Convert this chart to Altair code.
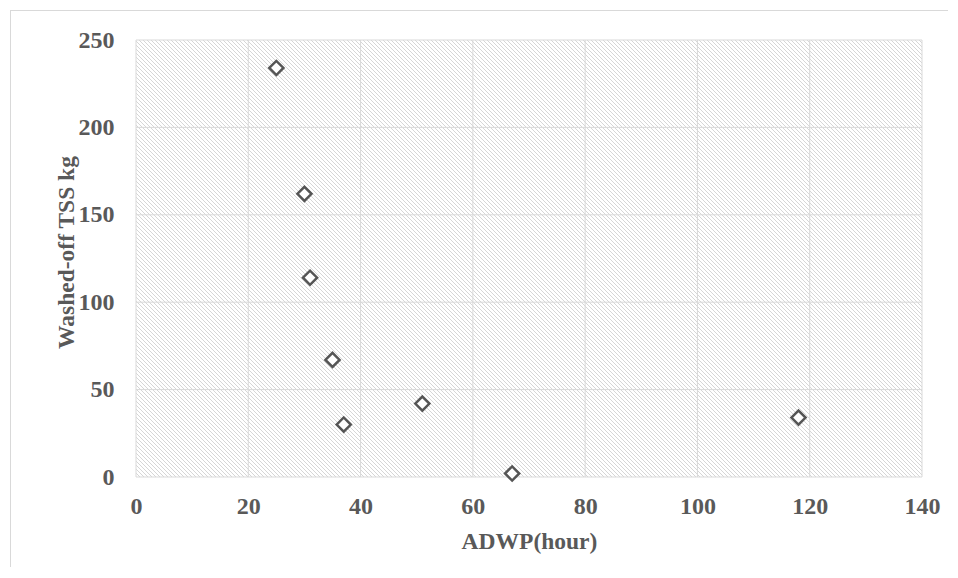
import altair as alt
import pandas as pd

# Data
adwp_hours = [25, 30, 31, 35, 37, 51, 67, 118]
tss_kg = [234, 162, 114, 67, 30, 42, 2, 34]

x_ticks = [0, 20, 40, 60, 80, 100, 120, 140]
y_ticks = [0, 50, 100, 150, 200, 250]

x_title = "ADWP(hour)"
y_title = "Washed-off TSS kg"

df = pd.DataFrame({"adwp": adwp_hours, "tss": tss_kg})
xt = pd.DataFrame({"v": x_ticks})
yt = pd.DataFrame({"v": y_ticks})

W, H = 786, 437
TEXT = "#595959"
GRID = "#d9d9d9"
FONT = "Liberation Serif"

# Diagonal hatch as a striped linear gradient (45 deg in pixel space)
t = (W + H) / (W * W + H * H)
x2g, y2g = t * W, 1 - t * H
stops = []
period, half = 4, 0.5
d = -H - period
while d <= W + period:
    a = (d - half + H) / (W + H)
    b = (d + half + H) / (W + H)
    a = min(max(a, 0), 1)
    b = min(max(b, 0), 1)
    stops += [
        alt.GradientStop(offset=a, color="#ffffff"),
        alt.GradientStop(offset=a, color="#d6d6d6"),
        alt.GradientStop(offset=b, color="#d6d6d6"),
        alt.GradientStop(offset=b, color="#ffffff"),
    ]
    d += period
hatch = alt.LinearGradient(gradient="linear", stops=stops, x1=0, y1=1, x2=x2g, y2=y2g)

one = alt.Data(values=[{}])

xscale = alt.Scale(domain=[0, 140], nice=False, zero=True)
yscale = alt.Scale(domain=[0, 250], nice=False)

bg = alt.Chart(one).mark_rect(fill=hatch, strokeWidth=0).encode(
    x=alt.value(0), x2=alt.value(W), y=alt.value(0), y2=alt.value(H)
)

vgrid = alt.Chart(xt).mark_rule(color=GRID, strokeWidth=1).encode(
    x=alt.X("v:Q", scale=xscale), y=alt.value(0), y2=alt.value(H)
)
hgrid = alt.Chart(yt).mark_rule(color=GRID, strokeWidth=1).encode(
    y=alt.Y("v:Q", scale=yscale), x=alt.value(0), x2=alt.value(W)
)

frame_top = alt.Chart(one).mark_rule(color=GRID, strokeWidth=1).encode(
    x=alt.value(-126), x2=alt.value(W + 60), y=alt.value(-29.5)
)
frame_left = alt.Chart(one).mark_rule(color=GRID, strokeWidth=1).encode(
    x=alt.value(-125.5), y=alt.value(-30), y2=alt.value(H + 120)
)

points = alt.Chart(df).mark_point(
    shape="diamond", filled=True, fill="white", stroke="#555555",
    strokeWidth=2.5, size=200, opacity=1
).encode(
    x=alt.X("adwp:Q", scale=xscale,
            axis=alt.Axis(values=x_ticks, title=x_title, labelBaseline="alphabetic",
                          labelPadding=36.5, titleBaseline="alphabetic", titleY=71)),
    y=alt.Y("tss:Q", scale=yscale,
            axis=alt.Axis(values=y_ticks, title=y_title, labelPadding=22,
                          titleBaseline="alphabetic", titleX=-63, titleY=212)),
)

chart = alt.layer(bg, vgrid, hgrid, frame_top, frame_left, points).properties(
    width=W, height=H,
    autosize=alt.AutoSizeParams(type="none"),
    padding={"left": 128, "top": 32, "right": 26, "bottom": 90},
).configure_view(stroke=None).configure_axis(
    grid=False, domain=False, ticks=False, tickSize=0, labelFlush=False,
    labelFont=FONT, labelFontSize=24, labelFontWeight="bold", labelColor=TEXT,
    titleFont=FONT, titleFontSize=23.5, titleFontWeight="bold", titleColor=TEXT,
)

chart.save("out.html", embed_options={"renderer": "svg", "actions": False})
